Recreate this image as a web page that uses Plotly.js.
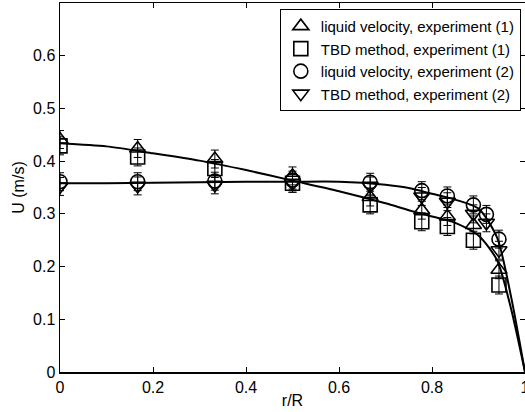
<!DOCTYPE html>
<html>
<head>
<meta charset="utf-8">
<script src="https://cdn.plot.ly/plotly-3.0.1.min.js"></script>
<style>
html,body{margin:0;padding:0;overflow:hidden;background:#fff;}
#chart{width:545px;height:412px;}
</style>
</head>
<body>
<div id="chart"></div>
<script>
// Measurement positions (r/R)
const r1 = [0, 0.167, 0.333, 0.5, 0.667, 0.778, 0.833, 0.889, 0.944];
const r2 = [0, 0.167, 0.333, 0.5, 0.667, 0.778, 0.833, 0.889, 0.917, 0.944];
// Experiment (1)
const liquid1 = [0.441, 0.424, 0.404, 0.372, 0.332, 0.307, 0.295, 0.279, 0.194];
const tbd1    = [0.429, 0.408, 0.386, 0.358, 0.317, 0.285, 0.276, 0.250, 0.165];
// Experiment (2)
const liquid2 = [0.361, 0.361, 0.362, 0.364, 0.360, 0.344, 0.334, 0.317, 0.299, 0.252];
const tbd2    = [0.352, 0.353, 0.355, 0.358, 0.353, 0.333, 0.323, 0.300, 0.283, 0.231];
const errU = 0.017;
// Fitted profiles
const fitX1 = [0, 0.1, 0.2, 0.3, 0.4, 0.5, 0.6, 0.7, 0.75, 0.8, 0.85, 0.9, 0.94, 0.97, 1];
const fitY1 = [0.434, 0.428, 0.415, 0.401, 0.383, 0.363, 0.343, 0.320, 0.307, 0.295, 0.283, 0.259, 0.212, 0.12, 0];
const fitX2 = [0, 0.1, 0.2, 0.3, 0.4, 0.5, 0.6, 0.65, 0.7, 0.75, 0.8, 0.85, 0.9, 0.94, 0.97, 1];
const fitY2 = [0.358, 0.358, 0.359, 0.360, 0.361, 0.361, 0.361, 0.359, 0.355, 0.349, 0.338, 0.327, 0.310, 0.255, 0.143, 0];
const legendNames = ['liquid velocity, experiment (1)', 'TBD method, experiment (1)',
                     'liquid velocity, experiment (2)', 'TBD method, experiment (2)'];
const xTicks = [0, 0.2, 0.4, 0.6, 0.8, 1];
const xTickText = ['0', '0.2', '0.4', '0.6', '0.8', '1'];
const yTicks = [0, 0.1, 0.2, 0.3, 0.4, 0.5, 0.6];
const yTickText = ['0', '0.1', '0.2', '0.3', '0.4', '0.5', '0.6'];

const FONT = 'Liberation Sans, Arial, sans-serif';
const FS = 16;
function lineTrace(x, y) {
  return {x: x, y: y, mode: 'lines', type: 'scatter', showlegend: false, hoverinfo: 'skip',
          line: {color: '#000', width: 2, shape: 'spline', smoothing: 0.7}};
}
function markTrace(x, y, sym, name) {
  return {x: x, y: y, mode: 'markers', type: 'scatter', name: name,
          marker: {symbol: sym, size: 14, color: '#000', line: {color: '#000', width: 1.6}},
          error_y: {type: 'constant', value: errU, color: '#000', thickness: 1, width: 4}};
}
const data = [
  lineTrace(fitX1, fitY1),
  lineTrace(fitX2, fitY2),
  markTrace(r1, liquid1, 'triangle-up-open', legendNames[0]),
  markTrace(r1, tbd1, 'square-open', legendNames[1]),
  markTrace(r2, liquid2, 'circle-open', legendNames[2]),
  markTrace(r2, tbd2, 'triangle-down-open', legendNames[3])
];
const axisCommon = {showgrid: false, zeroline: false, showline: true, linecolor: '#000', linewidth: 1.5,
                    ticks: 'inside', ticklen: 5, tickcolor: '#000', mirror: 'ticks',
                    tickfont: {family: FONT, size: FS, color: '#000'}};
const layout = {
  width: 545, height: 412,
  margin: {l: 60, r: 20, t: 3, b: 40},
  paper_bgcolor: '#fff', plot_bgcolor: '#fff',
  font: {family: FONT, size: FS, color: '#000'},
  xaxis: Object.assign({}, axisCommon, {range: [0, 1], tickvals: xTicks, ticktext: xTickText,
          title: {text: 'r/R', font: {family: FONT, size: FS}, standoff: 0}}),
  yaxis: Object.assign({}, axisCommon, {range: [0, 0.7], tickvals: yTicks, ticktext: yTickText,
          title: {text: 'U (m/s)', font: {family: FONT, size: FS}, standoff: 4}}),
  legend: {x: 0.991, y: 0.984, xanchor: 'right', yanchor: 'top', bgcolor: '#fff',
           bordercolor: '#000', borderwidth: 1, font: {family: FONT, size: 15},
           tracegroupgap: 0, itemwidth: 30}
};
Plotly.newPlot('chart', data, layout, {displayModeBar: false, staticPlot: true});
</script>
</body>
</html>
